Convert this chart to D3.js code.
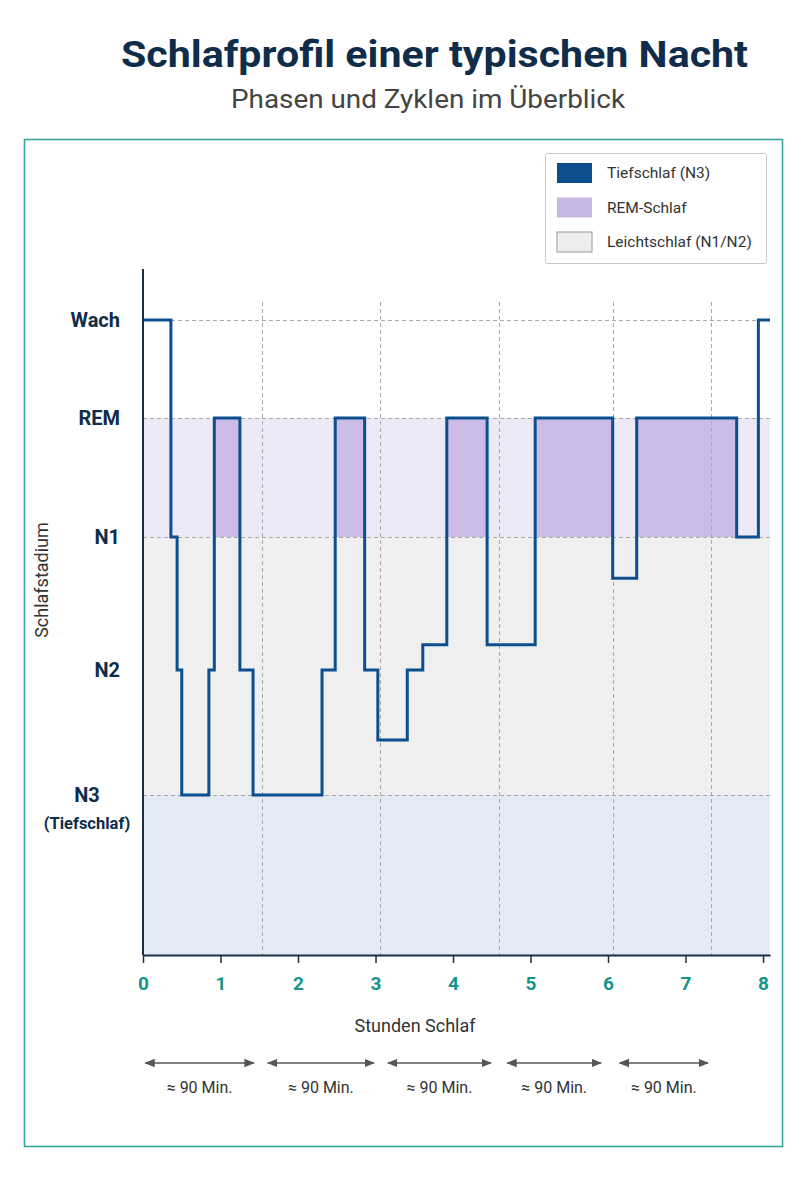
<!DOCTYPE html>
<html>
<head>
<meta charset="utf-8">
<script src="https://cdn.jsdelivr.net/npm/d3@7"></script>
<style>
  body { margin: 0; background: #fff; }
  text { font-family: Roboto, "Noto Sans", sans-serif; }
</style>
</head>
<body>
<div id="chart"></div>
<script>

// stage levels (0 = awake, 4 = deep sleep)
var stageNames = ["Wach", "REM", "N1", "N2", "N3"];
var stageLevels = [0, 1, 2, 3, 4];

// hypnogram: start hour of each step, and the level held from there on
var stepHours  = [0, 0.36, 0.44, 0.50, 0.85, 0.92, 1.25, 1.42, 2.31, 2.48, 2.86, 3.03, 3.41, 3.61, 3.92, 4.44, 5.06, 6.06, 6.37, 7.66, 7.94, 8.09];
var stepLevels = [0, 2,    3,    4,    3,    1,    3,    4,    3,    1,    3,    3.56, 3,    2.81, 1,    2.81, 1,    2.31, 1,    2,    0,    0];

var hourTicks = [0, 1, 2, 3, 4, 5, 6, 7, 8];
var cycleBounds = [1.54, 3.06, 4.59, 6.06, 7.33]; // dashed verticals
var cycleStarts = [0.03, 1.61, 3.16, 4.70, 6.15];
var cycleEnds   = [1.43, 2.98, 4.49, 5.91, 7.29];
var cycleLabel  = "≈ 90 Min.";

var legendLabels = ["Tiefschlaf (N3)", "REM-Schlaf", "Leichtschlaf (N1/N2)"];
var legendColors = ["#0b4f8e", "#c9b8e4", "#eeeeee"];

/////////////////////////

var W = 800, H = 1200;
var svg = d3.select("#chart").append("svg")
    .attr("width", W)
    .attr("height", H);

// scales
var x = d3.scaleLinear().domain([0, 8.09]).range([143, 770]);
var y = d3.scaleLinear()
    .domain([-0.52, 0, 1, 2, 3, 4, 5.3])
    .range([269, 320, 418, 537, 670, 795, 955]);

var navy = "#0f2c4a";
var lineBlue = "#0b4f8e";
var teal = "#13968a";

// Title
svg.append("text")
    .attr("x", 121).attr("y", 67)
    .attr("textLength", 627)
    .attr("lengthAdjust", "spacingAndGlyphs")
    .style("font-size", "37px")
    .style("font-weight", 700)
    .style("fill", navy)
    .text("Schlafprofil einer typischen Nacht");
svg.append("text")
    .attr("x", 231).attr("y", 108)
    .attr("textLength", 394)
    .attr("lengthAdjust", "spacingAndGlyphs")
    .style("font-size", "25px")
    .style("fill", "#444")
    .text("Phasen und Zyklen im Überblick");

// Frame
svg.append("rect")
    .attr("x", 24.5).attr("y", 139.5)
    .attr("width", 758).attr("height", 1007)
    .attr("fill", "none")
    .attr("stroke", "#3aa59b")
    .attr("stroke-width", 1.6);

// Background bands
var x0 = x(0), x1 = x.range()[1];
var bands = [
    {from: 1, to: 2, color: "#ede9f7"},
    {from: 2, to: 4, color: "#efefef"},
    {from: 4, to: 5.3, color: "#e4eaf3"}
];
svg.append("g").selectAll("rect").data(bands).join("rect")
    .attr("x", x0).attr("width", x1 - x0)
    .attr("y", function(d){ return y(d.from); })
    .attr("height", function(d){ return y(d.to) - y(d.from); })
    .attr("fill", function(d){ return d.color; });

// REM blocks, filled under the line
var steps = stepHours.map(function(h, i){ return {h: h, v: stepLevels[i]}; });
var remBlocks = [];
for(var i=0; i<steps.length-1; i++){
    if(steps[i].v === 1) remBlocks.push({a: steps[i].h, b: steps[i+1].h});
}
svg.append("g").selectAll("rect").data(remBlocks).join("rect")
    .attr("x", function(d){ return x(d.a); })
    .attr("width", function(d){ return x(d.b) - x(d.a); })
    .attr("y", y(1))
    .attr("height", y(2) - y(1))
    .attr("fill", "#cbbbe6");

// Grid: dashed horizontals at stage levels (not N2), dashed verticals at cycle bounds
var grid = svg.append("g")
    .attr("stroke", "#a9a9a9")
    .attr("stroke-width", 1)
    .attr("stroke-dasharray", "4,3");
grid.selectAll("line.h").data([0, 1, 2, 4]).join("line")
    .attr("class", "h")
    .attr("x1", x0).attr("x2", x1)
    .attr("y1", function(d){ return y(d) + 0.5; })
    .attr("y2", function(d){ return y(d) + 0.5; });
grid.selectAll("line.v").data(cycleBounds).join("line")
    .attr("class", "v")
    .attr("x1", function(d){ return Math.round(x(d)) + 0.5; })
    .attr("x2", function(d){ return Math.round(x(d)) + 0.5; })
    .attr("y1", 302).attr("y2", y(5.3));

// Hypnogram line
var pathline = d3.line()
    .x(function(d){ return x(d.h); })
    .y(function(d){ return y(d.v); })
    .curve(d3.curveStepAfter);
svg.append("path")
    .datum(steps)
    .attr("d", pathline)
    .attr("fill", "none")
    .attr("stroke", lineBlue)
    .attr("stroke-width", 3)
    .attr("stroke-linejoin", "miter");

// Y axis line
svg.append("line")
    .attr("x1", x0).attr("x2", x0)
    .attr("y1", y(-0.52)).attr("y2", y(5.3))
    .attr("stroke", "#1c2f44")
    .attr("stroke-width", 2);

// Y labels
svg.append("g").selectAll("text").data(stageLevels).join("text")
    .attr("x", function(d){ return d === 4 ? 87 : 120; })
    .attr("y", function(d){ return y(d); })
    .attr("dy", "0.36em")
    .attr("text-anchor", function(d){ return d === 4 ? "middle" : "end"; })
    .style("font-size", "20px")
    .style("font-weight", 700)
    .style("fill", navy)
    .text(function(d){ return stageNames[d]; });
svg.append("text")
    .attr("x", 87).attr("y", y(4) + 28)
    .attr("dy", "0.36em")
    .attr("text-anchor", "middle")
    .style("font-size", "16.5px")
    .style("font-weight", 700)
    .style("fill", navy)
    .text("(Tiefschlaf)");

svg.append("text")
    .attr("transform", "translate(48,580) rotate(-90)")
    .attr("text-anchor", "middle")
    .style("font-size", "18px")
    .style("fill", "#333")
    .text("Schlafstadium");

// X axis
var xAxis = svg.append("g")
    .attr("transform", "translate(0," + y(5.3) + ")")
    .call(d3.axisBottom(x).tickValues(hourTicks).tickSize(8).tickSizeOuter(0).tickFormat(d3.format("d")));
xAxis.select(".domain").attr("stroke", "#1c2f44").attr("stroke-width", 2);
xAxis.selectAll(".tick line").attr("stroke", "#1c2f44").attr("stroke-width", 1.5);
xAxis.selectAll(".tick text")
    .attr("y", 22)
    .style("font-size", "19px")
    .style("font-weight", 700)
    .style("font-family", "Roboto, sans-serif")
    .style("fill", teal);

svg.append("text")
    .attr("x", 415).attr("y", 1032)
    .attr("text-anchor", "middle")
    .style("font-size", "18px")
    .style("fill", "#333")
    .text("Stunden Schlaf");

// Cycle arrows
var defs = svg.append("defs");
defs.append("marker")
    .attr("id", "ah")
    .attr("viewBox", "0 0 10 10")
    .attr("refX", 9).attr("refY", 5)
    .attr("markerWidth", 7).attr("markerHeight", 7)
    .attr("orient", "auto-start-reverse")
  .append("path")
    .attr("d", "M0,1 L10,5 L0,9 Z")
    .attr("fill", "#555");

var cycles = cycleStarts.map(function(s, i){ return {a: s, b: cycleEnds[i]}; });
var cyc = svg.append("g").selectAll("g").data(cycles).join("g");
cyc.append("line")
    .attr("x1", function(d){ return x(d.a); })
    .attr("x2", function(d){ return x(d.b); })
    .attr("y1", 1063).attr("y2", 1063)
    .attr("stroke", "#555")
    .attr("stroke-width", 1.5)
    .attr("marker-start", "url(#ah)")
    .attr("marker-end", "url(#ah)");
cyc.append("text")
    .attr("x", function(d){ return (x(d.a) + x(d.b)) / 2; })
    .attr("y", 1093)
    .attr("text-anchor", "middle")
    .style("font-size", "16px")
    .style("fill", "#333")
    .text(cycleLabel);

// Legend
var legend = svg.append("g").attr("transform", "translate(545,153)");
legend.append("rect")
    .attr("x", 0.5).attr("y", 0.5)
    .attr("width", 221).attr("height", 110)
    .attr("rx", 2)
    .attr("fill", "#fff")
    .attr("stroke", "#c8c8c8");
var item = legend.selectAll("g").data(legendLabels).join("g")
    .attr("transform", function(d, i){ return "translate(12," + (10 + i * 34.5) + ")"; });
item.append("rect")
    .attr("width", 35).attr("height", 20)
    .attr("fill", function(d, i){ return legendColors[i]; })
    .attr("stroke", function(d, i){ return i === 2 ? "#999" : "none"; });
item.append("text")
    .attr("x", 50).attr("y", 10)
    .attr("dy", "0.35em")
    .style("font-size", "15.5px")
    .style("fill", "#333")
    .text(function(d){ return d; });

</script>
</body>
</html>
